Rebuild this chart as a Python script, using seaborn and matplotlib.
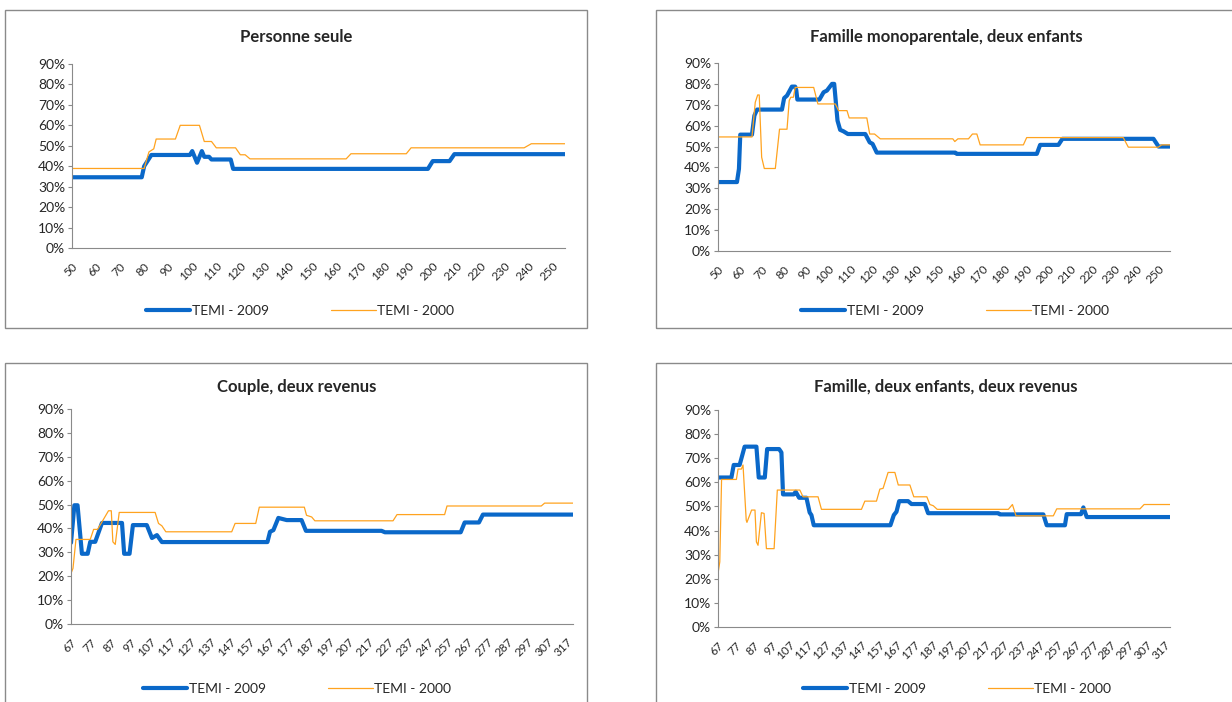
import matplotlib
matplotlib.use("Agg")
import matplotlib.pyplot as plt
import seaborn as sns
import pandas as pd
from matplotlib.patches import Rectangle
from matplotlib.ticker import FuncFormatter

# ---- data (revenu, taux en %) ----
ps_x_2009 = [50, 79, 80, 83, 99, 100, 102, 104, 105, 107, 108, 116, 117, 198, 200, 207, 209, 255]
ps_y_2009 = [34.6, 34.6, 40.0, 45.5, 45.5, 47.4, 41.7, 47.4, 44.6, 44.6, 43.3, 43.3, 38.7, 38.7, 42.5, 42.5, 45.9, 45.9]
ps_x_2000 = [50, 80, 82, 84, 85, 93, 95, 103, 105, 108, 110, 118, 120, 122, 124, 164, 166, 189, 191, 238, 241, 255]
ps_y_2000 = [38.9, 38.9, 47.0, 48.5, 53.3, 53.3, 60.0, 60.0, 52.1, 52.1, 49.0, 49.0, 45.6, 45.6, 43.6, 43.6, 46.1, 46.1, 49.0, 49.0, 51.0, 51.0]

fm_x_2009 = [50, 58.6, 59.5, 60.1, 65.4, 66.5, 67.7, 79, 80, 81.3, 83.5, 85, 85.5, 86, 96, 97.9, 99.4, 101.7, 102.7,
             104.2, 105.4, 106.9, 108.9, 116.8, 118.8, 120.1, 122, 157.6, 158.3, 194.6, 196.1, 204.4, 206.2,
             247.5, 249.8, 255]
fm_y_2009 = [33, 33, 39.3, 55.7, 55.7, 64.8, 67.7, 67.7, 73.2, 74.4, 78.7, 78.7, 77, 72.5, 72.5, 76, 76.8, 80, 80,
             62.4, 58, 57.3, 56, 56, 52, 51.3, 47.1, 47.1, 46.5, 46.5, 50.8, 50.8, 53.7, 53.7, 50, 50]
fm_x_2000 = [50, 65.4, 66.9, 68, 68.7, 69.8, 71, 76, 77.9, 81.3, 82.3, 83, 84.2, 85, 93.4, 95.3, 103.2, 104.7,
             108.5, 109.5, 117.5, 118.8, 121, 123.6, 156.5, 157.4, 158.8, 163.6, 165.4, 167.4, 168.9, 188.5,
             190, 233.8, 236.1, 249.7, 251.2, 255]
fm_y_2000 = [54.6, 54.6, 71.2, 74.7, 74.7, 44.9, 39.5, 39.5, 58.3, 58.3, 72, 73.6, 73.6, 78.3, 78.3, 70.4, 70.4,
             67.2, 67.2, 63.7, 63.7, 56, 56, 53.7, 53.7, 52.4, 53.7, 53.7, 56, 56, 50.8, 50.8, 54.3, 54.3,
             49.7, 49.7, 50.8, 50.8]

cp_x_2009 = [67, 68.7, 70.3, 72.5, 75.4, 76.7, 79.2, 82.6, 92.7, 93.8, 96.5, 98.2, 105.2, 107.8, 110.3, 112.8,
             166, 167.3, 169, 171.5, 175.7, 183.2, 185.4, 223.5, 225.2, 263.4, 265.4, 272.6, 274.6, 320]
cp_y_2009 = [34, 49.7, 49.7, 29.4, 29.4, 34.4, 34.4, 42.3, 42.3, 29.4, 29.4, 41.4, 41.4, 36, 37.2, 34.3,
             34.3, 38.6, 39.3, 44.4, 43.5, 43.5, 39, 39, 38.4, 38.4, 42.5, 42.5, 45.8, 45.8]
cp_x_2000 = [67, 68, 69.5, 76.7, 78.4, 80.4, 85.9, 87.3, 88.1, 89.3, 91.3, 109.4, 111.1, 112.8, 114.8, 148,
             149.7, 160.1, 161.9, 184.6, 185.7, 188.3, 189.9, 229.3, 231.3, 255.3, 256.5, 304, 305.7, 320]
cp_y_2000 = [21.2, 23.3, 35.4, 35.4, 39.6, 39.6, 47.4, 47.4, 34.4, 33.3, 46.7, 46.7, 42.1, 41.1, 38.6, 38.6,
             42.1, 42.1, 48.9, 48.9, 45.5, 44.8, 43.2, 43.2, 45.8, 45.8, 49.4, 49.4, 50.6, 50.6]

fe_x_2009 = [67, 74.5, 75.8, 79.1, 81.9, 88.5, 89.8, 93.2, 94.5, 101.2, 102.5, 103.4, 109.4, 110.5, 112.4,
             116.5, 118.3, 119.3, 120.6, 163.5, 165.4, 166.9, 168.4, 173.4, 175.3, 182.8, 184.6, 223.9, 224.8,
             249.1, 251, 261.2, 262.2, 270.2, 271.5, 273.4, 320]
fe_y_2009 = [62, 62, 67.2, 67.2, 74.8, 74.8, 62, 62, 73.8, 73.8, 72.4, 55, 55, 56.1, 53.6, 53.6, 47.5, 46.4,
             42.2, 42.2, 46.4, 47.8, 52.2, 52.2, 51, 51, 47.2, 47.2, 46.7, 46.7, 42.2, 42.2, 46.8, 46.8, 49.6,
             45.6, 45.6]
fe_x_2000 = [67, 68, 69, 77.3, 78.2, 80.1, 81, 82.8, 83.2, 85.8, 87.7, 88.5, 89.4, 91.3, 92.8, 94.1, 98.4,
             100.2, 112.8, 114.6, 123, 124.9, 147.3, 149.2, 155.7, 157.6, 159.4, 162.2, 166, 167.9, 174.4,
             176.6, 183.9, 185.6, 187.5, 189.7, 229.5, 231.8, 233.8, 254.7, 256.6, 303.2, 305.5, 320]
fe_y_2000 = [22.2, 27, 61.2, 61.2, 65.5, 65.5, 67.2, 44.3, 43.4, 48.5, 48.5, 35.3, 33.9, 47.4, 47.1, 32.5,
             32.5, 56.8, 56.8, 54, 54, 48.8, 48.8, 52.2, 52.2, 57.2, 57.5, 64.1, 64.1, 58.9, 58.9, 54, 54,
             50.8, 50.3, 48.8, 48.8, 50.8, 46.1, 46.1, 49, 49, 50.8, 50.8]

titles = ["Personne seule", "Famille monoparentale, deux enfants",
          "Couple, deux revenus", "Famille, deux enfants, deux revenus"]
ticks_top = list(range(50, 251, 10))
ticks_bottom = list(range(67, 318, 10))

BLUE = "#0A68C9"
ORANGE = "#FFA31F"

sns.set_style("white")
plt.rcParams["font.family"] = ["Lato", "DejaVu Sans"]

W, H = 1232, 702
fig = plt.figure(figsize=(W / 100, H / 100), dpi=100)

def px_axes(left, top, right, bottom):
    return fig.add_axes([left / W, 1 - bottom / H, (right - left) / W, (bottom - top) / H])

panels = [
    dict(box=(72, 64, 565, 248), frame=(5, 10, 587, 328), data=(ps_x_2009, ps_y_2009, ps_x_2000, ps_y_2000),
         xlim=(50, 255), ticks=ticks_top, title_xy=(296, 37), leg_xy=(300, 311)),
    dict(box=(718, 63, 1170, 251), frame=(656, 10, 1240, 328), data=(fm_x_2009, fm_y_2009, fm_x_2000, fm_y_2000),
         xlim=(50, 255), ticks=ticks_top, title_xy=(946, 37), leg_xy=(955, 311)),
    dict(box=(71, 409, 573, 624), frame=(5, 363, 587, 710), data=(cp_x_2009, cp_y_2009, cp_x_2000, cp_y_2000),
         xlim=(67, 320), ticks=ticks_bottom, title_xy=(297, 387), leg_xy=(297, 689)),
    dict(box=(718, 410, 1170, 627), frame=(656, 363, 1240, 710), data=(fe_x_2009, fe_y_2009, fe_x_2000, fe_y_2000),
         xlim=(67, 320), ticks=ticks_bottom, title_xy=(946, 387), leg_xy=(957, 689)),
]

for p, title in zip(panels, titles):
    fl, ft, fr, fb = p["frame"]
    fig.add_artist(Rectangle((fl / W, 1 - fb / H), (fr - fl) / W, (fb - ft) / H,
                             transform=fig.transFigure, fill=False, edgecolor="#8a8a8a", linewidth=1.0))
    ax = px_axes(*p["box"])
    x09, y09, x00, y00 = p["data"]
    sns.lineplot(x=x09, y=y09, ax=ax, color=BLUE, linewidth=3.0, estimator=None, sort=False,
                 label="TEMI - 2009")
    sns.lineplot(x=x00, y=y00, ax=ax, color=ORANGE, linewidth=0.9, estimator=None, sort=False,
                 label="TEMI - 2000")
    ax.set_xlim(*p["xlim"])
    ax.set_ylim(0, 90)
    ax.set_yticks(range(0, 91, 10))
    ax.yaxis.set_major_formatter(FuncFormatter(lambda v, _: f"{v:.0f}%"))
    ax.set_xticks(p["ticks"])
    ax.set_xticklabels([str(t) for t in p["ticks"]], rotation=45, ha="right", rotation_mode="anchor",
                       fontsize=8.5)
    ax.tick_params(axis="y", labelsize=10, length=3, color="#8a8a8a", pad=2, left=True)
    ax.tick_params(axis="x", length=0, pad=9)
    for side in ("top", "right"):
        ax.spines[side].set_visible(False)
    ax.spines["left"].set_color("#8a8a8a")
    ax.spines["bottom"].set_color("#8a8a8a")
    ax.set_xlabel("")
    ax.set_ylabel("")
    ax.legend(loc="center", bbox_to_anchor=(p["leg_xy"][0] / W, 1 - p["leg_xy"][1] / H),
              bbox_transform=fig.transFigure, ncol=2, frameon=False, fontsize=10,
              handlelength=3.2, columnspacing=4.5, handletextpad=0.1)
    fig.text(p["title_xy"][0] / W, 1 - p["title_xy"][1] / H, title, ha="center", va="center",
             fontsize=12, fontweight="bold")

fig.savefig("out.png", dpi=100, facecolor="white")
